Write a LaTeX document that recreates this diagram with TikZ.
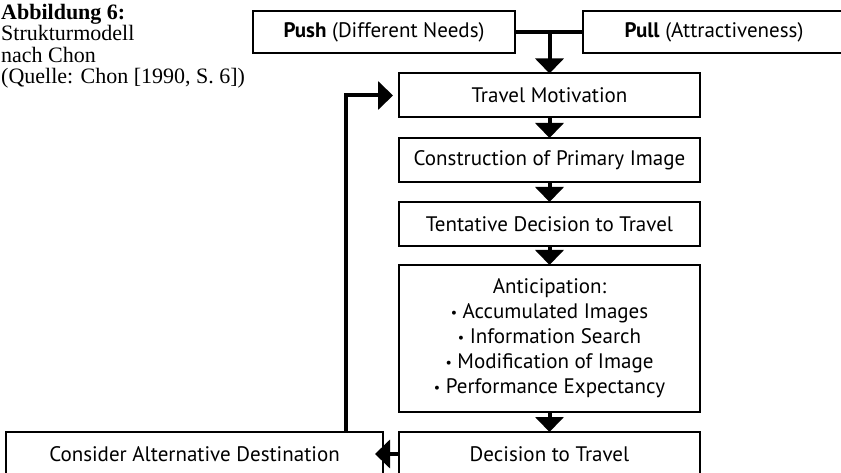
\documentclass[tikz,border=0pt]{standalone}
\usepackage{fontspec}
\setmainfont{Liberation Serif}
\newfontfamily\boxfont{PT Sans}
\usetikzlibrary{arrows.meta,calc}

\newcommand{\bul}{{\fontsize{14}{14}\selectfont\raisebox{1pt}{•}}}

\tikzset{
	box/.style={draw, line width=2pt, minimum width=301pt, minimum height=44pt,
		inner sep=0pt, outer sep=0pt, align=center,
		font=\boxfont\fontsize{21}{25}\selectfont},
	flow/.style={line width=4pt},
	arr/.style={flow, -{Triangle[width=28pt,length=15pt]}},
}

\begin{document}
\begin{tikzpicture}[x=1pt,y=-1pt]
	\useasboundingbox (0,0) rectangle (841,473);
	% caption
	\node[anchor=north west, align=left, inner sep=0pt,
		font=\fontsize{22}{21.5}\selectfont] (cap) at (1,4)
		{\textbf{Abbildung 6:}\\Strukturmodell\\nach Chon\\(Quelle: Chon [1990, S. 6])};
	% boxes
	\node[box, minimum width=262pt, minimum height=42pt] (push) at (384,32)
		{\textbf{Push} (Different Needs)};
	\node[box, minimum width=262pt, minimum height=42pt] (pull) at (714,32)
		{\textbf{Pull} (Attractiveness)};
	\node[box] (tm) at (549.5,95.5) {Travel Motivation};
	\node[box] (con) at (549.5,160) {Construction of Primary Image};
	\node[box] (ten) at (549.5,224) {Tentative Decision to Travel};
	\node[box, minimum height=147pt] (ant) at (549.5,338.5)
		{Anticipation:\\ \bul\ Accumulated Images\\ \bul\ Information Search\\
		 \bul\ Modification of Image\\ \bul\ Performance Expectancy};
	\node[box] (dec) at (549.5,454) {Decision to Travel};
	\node[box, minimum width=377pt] (alt) at (194.5,454) {Consider Alternative Destination};
	\coordinate (up) at ($(alt.north east)+(-37,0)$);
	% connectors
	\draw[flow] (push.east) -- (pull.west);
	\draw[arr] (push.east -| tm.north) -- (tm.north);
	\draw[arr] (tm) -- (con);
	\draw[arr] (con) -- (ten);
	\draw[arr] (ten) -- (ant);
	\draw[arr] (ant) -- (dec);
	\draw[arr, shorten >=-8pt] (dec.west) -- (alt.east);
	\draw[arr, shorten >=6pt] (up) |- (tm.west);
\end{tikzpicture}
\end{document}
